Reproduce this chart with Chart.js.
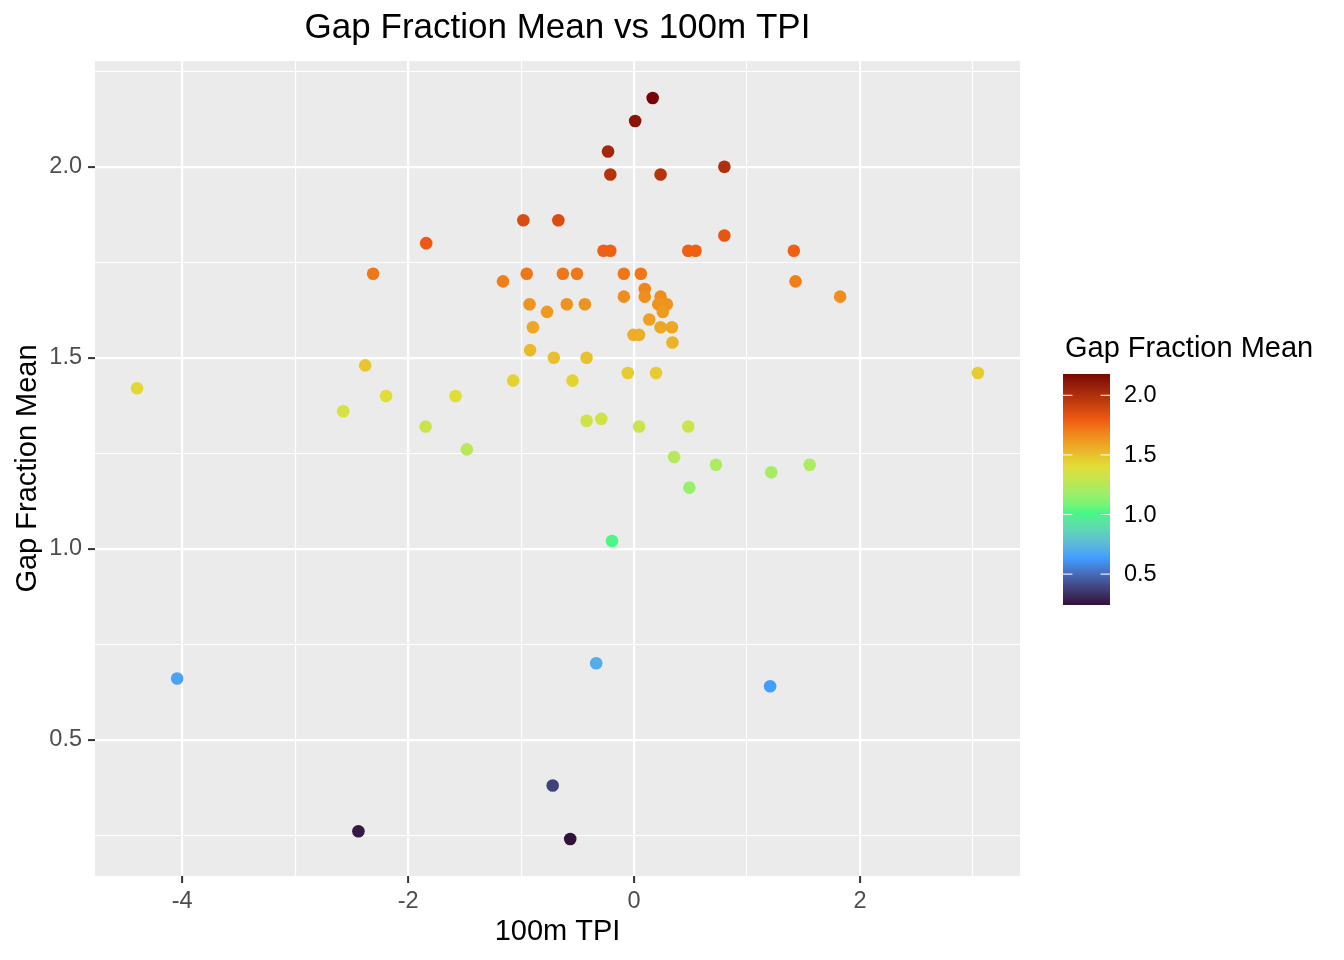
<!DOCTYPE html>
<html><head><meta charset="utf-8">
<script src="https://cdn.jsdelivr.net/npm/chart.js@4.4.1/dist/chart.umd.min.js"></script>
<style>
html,body{margin:0;padding:0;background:#fff;width:1344px;height:960px;overflow:hidden;font-family:"Liberation Sans",Arial,sans-serif;}
#wrap{position:relative;width:1344px;height:960px;}
#c{position:absolute;left:0;top:0;}
#legTitle{position:absolute;left:1065px;top:333px;font-size:29px;color:#000;white-space:nowrap;line-height:1;}
#bar{position:absolute;left:1063px;top:374px;}
.lt{position:absolute;left:1124px;font-size:23.5px;color:#000;line-height:1;transform:translateY(-50%);white-space:nowrap;}
</style></head>
<body><div id="wrap"><canvas id="c" width="1115" height="960"></canvas>
<div id="legTitle"></div>
<canvas id="bar" width="47" height="231"></canvas>
</div>
<script>
const TITLE = "Gap Fraction Mean vs 100m TPI";
const X_TITLE = "100m TPI";
const Y_TITLE = "Gap Fraction Mean";
const LEGEND_TITLE = "Gap Fraction Mean";

const tpi = [0.165, 0.01, -0.23, -0.21, 0.235, 0.80, 0.80, 1.415, 1.43, 1.825,
  -1.84, -2.31, -0.98, -0.67, -0.27, -0.21, 0.48, 0.545, -1.16, -0.95,
  -0.63, -0.505, -0.09, 0.06, 0.095, -0.09, 0.095, 0.235, -0.925, -0.595,
  -0.435, 0.215, 0.29, 0.255, -0.77, 0.135, -0.895, 0.235, 0.335, -0.005,
  0.045, 0.34, -0.92, -0.71, -0.42, -1.07, -0.545, -0.055, 0.195, 3.045,
  -2.38, -4.40, -2.195, -1.58, -2.575, -1.845, -1.48, -0.42, -0.29, 0.045,
  0.48, 0.355, 0.725, 0.49, 1.215, 1.555, -0.195, -4.045, -0.335, 1.205,
  -0.72, -2.44, -0.565];
const gapMean = [2.18, 2.12, 2.04, 1.98, 1.98, 2.00, 1.82, 1.78, 1.70, 1.66,
  1.80, 1.72, 1.86, 1.86, 1.78, 1.78, 1.78, 1.78, 1.70, 1.72,
  1.72, 1.72, 1.72, 1.72, 1.68, 1.66, 1.66, 1.66, 1.64, 1.64,
  1.64, 1.64, 1.64, 1.62, 1.62, 1.60, 1.58, 1.58, 1.58, 1.56,
  1.56, 1.54, 1.52, 1.50, 1.50, 1.44, 1.44, 1.46, 1.46, 1.46,
  1.48, 1.42, 1.40, 1.40, 1.36, 1.32, 1.26, 1.335, 1.34, 1.32,
  1.32, 1.24, 1.22, 1.16, 1.20, 1.22, 1.02, 0.66, 0.70, 0.64,
  0.38, 0.26, 0.24];

const xMajorTicks = [-4, -2, 0, 2];
const xMinorTicks = [-3, -1, 1, 3];
const yMajorTicks = [0.5, 1.0, 1.5, 2.0];
const yMinorTicks = [0.25, 0.75, 1.25, 1.75, 2.25];
const legendTicks = [0.5, 1.0, 1.5, 2.0];
const turboStops = ["#30123B", "#3E9BFE", "#46F884", "#E1DD37", "#F05B12", "#7A0403"];

const FONT = "'Liberation Sans', Arial, sans-serif";

// ---- colour helpers (Lab interpolation like ggplot's gradient_n_pal) ----
function hexToRgb(h){return [parseInt(h.slice(1,3),16),parseInt(h.slice(3,5),16),parseInt(h.slice(5,7),16)];}
function s2l(c){c/=255;return c<=0.04045?c/12.92:Math.pow((c+0.055)/1.055,2.4);}
function l2s(c){c=c<=0.0031308?12.92*c:1.055*Math.pow(Math.max(c,0),1/2.4)-0.055;return Math.max(0,Math.min(255,Math.round(c*255)));}
function rgbToLab(rgb){
  const r=s2l(rgb[0]),g=s2l(rgb[1]),b=s2l(rgb[2]);
  const X=(0.4124564*r+0.3575761*g+0.1804375*b)/0.95047;
  const Y=(0.2126729*r+0.7151522*g+0.0721750*b);
  const Z=(0.0193339*r+0.1191920*g+0.9503041*b)/1.08883;
  const f=t=>t>0.008856?Math.cbrt(t):(7.787*t+16/116);
  const fx=f(X),fy=f(Y),fz=f(Z);
  return [116*fy-16,500*(fx-fy),200*(fy-fz)];
}
function labToRgb(lab){
  const fy=(lab[0]+16)/116,fx=fy+lab[1]/500,fz=fy-lab[2]/200;
  const fi=t=>{const t3=t*t*t;return t3>0.008856?t3:(t-16/116)/7.787;};
  const X=fi(fx)*0.95047,Y=fi(fy),Z=fi(fz)*1.08883;
  return [l2s(3.2404542*X-1.5371385*Y-0.4985314*Z),
          l2s(-0.9692660*X+1.8760108*Y+0.0415560*Z),
          l2s(0.0556434*X-0.2040259*Y+1.0572252*Z)];
}
const stopLabs = turboStops.map(h=>rgbToLab(hexToRgb(h)));
const vMin = Math.min(...gapMean), vMax = Math.max(...gapMean);
function colorFor(v){
  let t=(v-vMin)/(vMax-vMin); t=Math.max(0,Math.min(1,t));
  const n=stopLabs.length-1; const p=t*n; let i=Math.floor(p); if(i>=n)i=n-1; const f=p-i;
  const a=stopLabs[i],b=stopLabs[i+1];
  const c=labToRgb([a[0]+(b[0]-a[0])*f,a[1]+(b[1]-a[1])*f,a[2]+(b[2]-a[2])*f]);
  return `rgb(${c[0]},${c[1]},${c[2]})`;
}

// ggplot-like 5% expansion
const xLo=Math.min(...tpi), xHi=Math.max(...tpi), xPad=(xHi-xLo)*0.05;
const yPad=(vMax-vMin)*0.05;
const xTicks=[...xMajorTicks,...xMinorTicks].sort((a,b)=>a-b);
const yTicks=[...yMajorTicks,...yMinorTicks].sort((a,b)=>a-b);
const isMajor=(arr,v)=>arr.some(m=>Math.abs(m-v)<1e-9);

const bgPlugin={id:'panelBg',beforeDraw(chart){
  const {ctx,chartArea:a}=chart; ctx.save(); ctx.fillStyle='#EBEBEB';
  ctx.fillRect(a.left,a.top,a.right-a.left,a.bottom-a.top); ctx.restore();
}};

const points = tpi.map((x,i)=>({x:x,y:gapMean[i]}));
new Chart(document.getElementById('c'),{
  type:'scatter',
  data:{datasets:[{data:points,yAxisID:'y',
    pointRadius:6.3,pointHoverRadius:6.3,pointBorderWidth:0,borderWidth:0,
    pointBackgroundColor:ctx=>colorFor(gapMean[ctx.dataIndex]),
    backgroundColor:ctx=>colorFor(gapMean[ctx.dataIndex])}]},
  options:{
    responsive:false,animation:false,devicePixelRatio:1,
    layout:{padding:0},
    plugins:{legend:{display:false},tooltip:{enabled:false},
      title:{display:true,text:TITLE,color:'#000',font:{family:FONT,size:35,weight:'normal'},padding:{top:7,bottom:12}}},
    scales:{
      x:{type:'linear',min:xLo-xPad,max:xHi+xPad,
        afterBuildTicks:s=>{s.ticks=xTicks.map(v=>({value:v}));},
        afterFit:s=>{s.height=84;},
        border:{display:false},
        grid:{color:'#FFFFFF',lineWidth:c=>isMajor(xMajorTicks,c.tick.value)?2.2:1.1,
          drawTicks:true,tickLength:7,tickWidth:2,
          tickColor:c=>isMajor(xMajorTicks,c.tick.value)?'#333333':'rgba(0,0,0,0)'},
        ticks:{autoSkip:false,maxRotation:0,padding:4,color:'#4D4D4D',font:{family:FONT,size:23.5},
          callback:v=>isMajor(xMajorTicks,v)?String(v):''},
        title:{display:true,text:X_TITLE,color:'#000',font:{family:FONT,size:29},padding:{top:0,bottom:11}}
      },
      y:{type:'linear',position:'left',min:vMin-yPad,max:vMax+yPad,
        afterBuildTicks:s=>{s.ticks=yTicks.map(v=>({value:v}));},
        afterFit:s=>{s.width=95;},
        border:{display:false},
        grid:{color:'#FFFFFF',lineWidth:c=>isMajor(yMajorTicks,c.tick.value)?2.2:1.1,
          drawTicks:true,tickLength:7,tickWidth:2,
          tickColor:c=>isMajor(yMajorTicks,c.tick.value)?'#333333':'rgba(0,0,0,0)'},
        ticks:{autoSkip:false,padding:6,color:'#4D4D4D',font:{family:FONT,size:23.5},
          callback:v=>isMajor(yMajorTicks,v)?v.toFixed(1):''},
        title:{display:true,text:Y_TITLE,color:'#000',font:{family:FONT,size:29},padding:{top:10.5,bottom:0}}
      },
      // empty right-hand spacer so the panel ends where the reference panel ends
      ySpacer:{type:'linear',position:'right',display:true,
        afterFit:s=>{s.width=95;},
        border:{display:false},grid:{display:false,drawTicks:false},ticks:{display:false}}
    }
  },
  plugins:[bgPlugin]
});

// ---- colourbar legend ----
document.getElementById('legTitle').textContent=LEGEND_TITLE;
const bar=document.getElementById('bar'); const bctx=bar.getContext('2d');
const BW=bar.width, BH=bar.height;
for(let j=0;j<BH;j++){
  const v=vMax-(j+0.5)/BH*(vMax-vMin);
  bctx.fillStyle=colorFor(v); bctx.fillRect(0,j,BW,1);
}
bctx.strokeStyle='rgba(255,255,255,0.85)'; bctx.lineWidth=1.2;
const wrap=document.getElementById('wrap');
legendTicks.forEach(v=>{
  const y=(vMax-v)/(vMax-vMin)*BH;
  bctx.beginPath(); bctx.moveTo(0,y); bctx.lineTo(BW/5,y);
  bctx.moveTo(BW-BW/5,y); bctx.lineTo(BW,y); bctx.stroke();
  const d=document.createElement('div'); d.className='lt'; d.textContent=v.toFixed(1);
  d.style.top=(374+y)+'px'; wrap.appendChild(d);
});
</script>
</body></html>
